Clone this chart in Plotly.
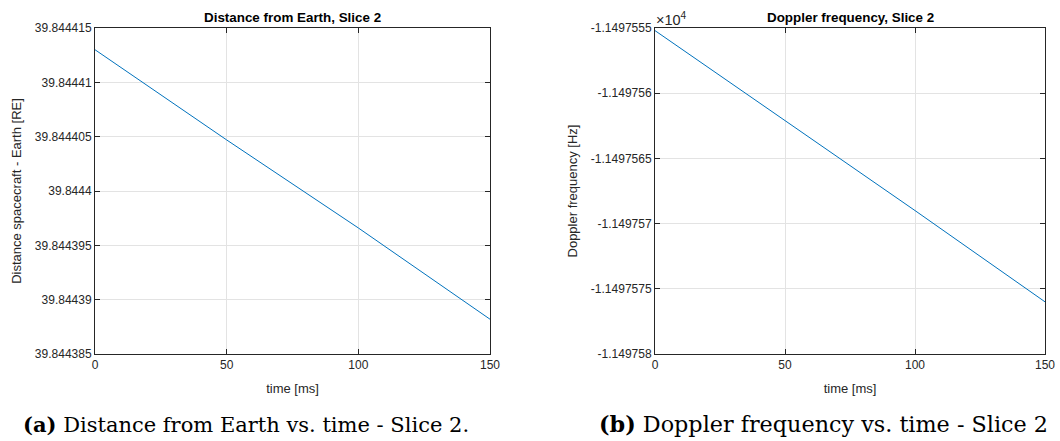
import plotly.graph_objects as go

time_ms = [0, 50, 100, 150]
distance_re = [39.844413, 39.8444047, 39.8443966, 39.8443882]
doppler_hz = [-11497.5552, -11497.5621, -11497.5690, -11497.5760]

x_ticks = [0, 50, 100, 150]
dist_ticks = [39.844385, 39.84439, 39.844395, 39.8444, 39.844405, 39.84441, 39.844415]
dist_labels = ["39.844385", "39.84439", "39.844395", "39.8444", "39.844405", "39.84441", "39.844415"]
dop_ticks = [-11497.58, -11497.575, -11497.57, -11497.565, -11497.56, -11497.555]
dop_labels = ["-1.149758", "-1.1497575", "-1.149757", "-1.1497565", "-1.149756", "-1.1497555"]

W, H = 1060, 441
AX = "#262626"
GRID = "#e3e3e3"
BLUE = "#0072BD"
SANS = "Liberation Sans, Arial, Helvetica, sans-serif"
SERIF = "DejaVu Serif, serif"

fig = go.Figure()
fig.add_trace(go.Scatter(x=time_ms, y=distance_re, mode="lines",
                         line=dict(color=BLUE, width=1), xaxis="x", yaxis="y", showlegend=False))
fig.add_trace(go.Scatter(x=time_ms, y=doppler_hz, mode="lines",
                         line=dict(color=BLUE, width=1), xaxis="x2", yaxis="y2", showlegend=False))

ydom = [(H - 354) / H, (H - 28) / H]
common = dict(showline=True, linecolor=AX, linewidth=1, mirror="allticks", ticks="inside",
              ticklen=5, tickcolor=AX, showgrid=True, gridcolor=GRID, gridwidth=1,
              zeroline=False, automargin=False, tickfont=dict(family=SANS, size=12, color=AX))
tfont = dict(family=SANS, size=13, color=AX)

fig.update_layout(
    width=W, height=H, margin=dict(l=0, r=0, t=0, b=0),
    plot_bgcolor="white", paper_bgcolor="white",
    xaxis=dict(domain=[95 / W, 490 / W], range=[0, 150], tickvals=x_ticks,
               title=dict(text="time [ms]", font=tfont, standoff=12), **common),
    yaxis=dict(domain=ydom, range=[39.844385, 39.844415], tickvals=dist_ticks, ticktext=dist_labels,
               title=dict(text="Distance spacecraft - Earth [RE]", font=tfont, standoff=10), **common),
    xaxis2=dict(domain=[655 / W, 1045 / W], range=[0, 150], tickvals=x_ticks, anchor="y2",
                title=dict(text="time [ms]", font=tfont, standoff=12), **common),
    yaxis2=dict(domain=ydom, range=[-11497.58, -11497.555], tickvals=dop_ticks, ticktext=dop_labels,
                anchor="x2",
                title=dict(text="Doppler frequency [Hz]", font=tfont, standoff=10), **common),
)

anns = [
    dict(text="<b>Distance from Earth, Slice 2</b>", x=(95 + 490) / 2 / W, y=1 - 17 / H,
         font=dict(family=SANS, size=13.4, color="black")),
    dict(text="<b>Doppler frequency, Slice 2</b>", x=(655 + 1045) / 2 / W, y=1 - 17 / H,
         font=dict(family=SANS, size=13.4, color="black")),
    dict(text="×10<sup>4</sup>", x=654 / W, y=1 - 19 / H, xanchor="left",
         font=dict(family=SANS, size=14.5, color=AX)),
    dict(text="<b>(a)</b> Distance from Earth vs. time - Slice 2.", x=246 / W, y=1 - 424 / H,
         font=dict(family=SERIF, size=21, color="black")),
    dict(text="<b>(b)</b> Doppler frequency vs. time - Slice 2", x=823 / W, y=1 - 424 / H,
         font=dict(family=SERIF, size=22.3, color="black")),
]
for a in anns:
    fig.add_annotation(xref="paper", yref="paper", showarrow=False, xanchor=a.get("xanchor", "center"),
                       yanchor="middle", text=a["text"], x=a["x"], y=a["y"], font=a["font"])

fig.write_html("out.html", config={"displayModeBar": False},
               post_script="document.body.style.margin='0';document.body.style.padding='0';"
                           "document.documentElement.style.overflow='hidden';")
